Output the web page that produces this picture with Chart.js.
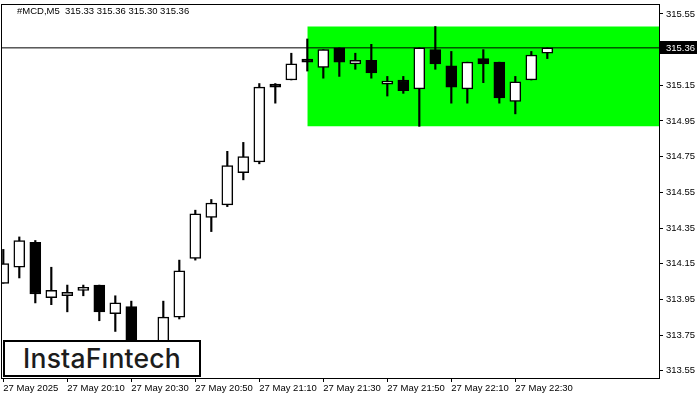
<!DOCTYPE html>
<html>
<head>
<meta charset="utf-8">
<script src="https://cdn.jsdelivr.net/npm/chart.js@4.4.1/dist/chart.umd.min.js"></script>
<style>
  body { margin: 0; background: #fff; }
  #wrap { position: relative; width: 700px; height: 400px; }
  #header {
    position: absolute; left: 17px; top: 5px;
    font: 9.5px "Liberation Sans", Arial, sans-serif; color: #000; white-space: pre;
  }
  #logo {
    position: absolute; left: 3px; top: 340px; width: 198px; height: 37px;
    box-sizing: border-box; border: 2px solid #000; background: #fff;
    font: 500 26.5px Inter, "Open Sans", sans-serif; color: #1c1c1c;
    text-align: center; line-height: 33px; letter-spacing: 0.2px;
  }
</style>
</head>
<body>
<div id="wrap">
  <canvas id="chart" width="700" height="400"></canvas>
  <div id="header">#MCD,M5  315.33 315.36 315.30 315.36</div>
  <div id="logo">InstaFıntech</div>
</div>
<script>
// M5 candles, index 0 = 19:50
const opens  = [314.04, 314.13, 314.27, 313.96, 313.97, 314.00, 314.03, 313.87, 313.91, 313.66, 313.62, 313.85, 314.18, 314.41, 314.48, 314.66, 314.72, 315.145, 315.18, 315.285, 315.25, 315.36, 315.27, 315.29, 315.157, 315.18, 315.13, 315.35, 315.26, 315.13, 315.30, 315.28, 315.06, 315.18, 315.33];
const highs  = [314.23, 314.30, 314.28, 314.13, 314.03, 314.03, 314.03, 313.97, 313.94, 313.70, 313.94, 314.17, 314.45, 314.51, 314.78, 314.83, 315.16, 315.16, 315.33, 315.41, 315.35, 315.36, 315.33, 315.38, 315.20, 315.20, 315.36, 315.48, 315.34, 315.28, 315.35, 315.28, 315.20, 315.34, 315.36];
const lows   = [314.04, 314.07, 313.93, 313.92, 313.88, 313.97, 313.83, 313.77, 313.62, 313.57, 313.60, 313.84, 314.17, 314.33, 314.47, 314.62, 314.71, 315.05, 315.18, 315.23, 315.19, 315.20, 315.24, 315.19, 315.09, 315.105, 314.92, 315.24, 315.05, 315.05, 315.165, 315.05, 314.99, 315.18, 315.30];
const closes = [314.15, 314.28, 313.98, 314.00, 313.99, 314.01, 313.88, 313.93, 313.66, 313.60, 313.85, 314.11, 314.43, 314.49, 314.70, 314.75, 315.14, 315.14, 315.27, 315.28, 315.35, 315.28, 315.29, 315.22, 315.168, 315.12, 315.36, 315.27, 315.14, 315.28, 315.27, 315.08, 315.17, 315.32, 315.36];

const xTickIdx = [0, 4, 8, 12, 16, 20, 24, 28, 32];
const xTickLabels = ['27 May 2025', '27 May 20:10', '27 May 20:30', '27 May 20:50', '27 May 21:10', '27 May 21:30', '27 May 21:50', '27 May 22:10', '27 May 22:30'];
const yTicks = [313.55, 313.75, 313.95, 314.15, 314.35, 314.55, 314.75, 314.95, 315.15, 315.35, 315.55];

// rectangle zone and current price
const zoneStart = 19, zoneEnd = 42;
const zoneTop = 315.48, zoneBottom = 314.92;
const lastPrice = 315.36;

const font = { family: '"Liberation Sans", Arial, sans-serif', size: 9.5 };

const bodies = opens.map((o, i) => ({ x: i, y: [Math.min(o, closes[i]), Math.max(o, closes[i])] }));
const wicks = lows.map((l, i) => ({ x: i, y: [l, highs[i]] }));
const bodyColors = opens.map((o, i) => closes[i] > o ? '#ffffff' : '#000000');

const framePlugin = {
  id: 'frame',
  afterDraw(chart) {
    const { ctx, chartArea: a, scales } = chart;
    ctx.save();
    ctx.strokeStyle = '#000';
    ctx.lineWidth = 1;
    ctx.strokeRect(a.left + 0.5, a.top + 0.5, a.right - a.left, a.bottom - a.top);
    // current price tag
    const y = scales.y.getPixelForValue(lastPrice);
    ctx.fillStyle = '#000';
    ctx.fillRect(a.right + 1, Math.round(y) - 7, 37, 13);
    ctx.fillStyle = '#fff';
    ctx.font = '9.5px "Liberation Sans", Arial, sans-serif';
    ctx.textBaseline = 'middle';
    ctx.fillText(lastPrice.toFixed(2), a.right + 7, Math.round(y));
    ctx.restore();
  }
};

new Chart(document.getElementById('chart'), {
  data: {
    datasets: [
      {
        type: 'bar',
        data: bodies,
        backgroundColor: bodyColors,
        borderColor: '#000',
        borderWidth: 1.5,
        borderSkipped: false,
        barThickness: 11,
        minBarLength: 3,
        grouped: false,
      },
      {
        type: 'bar',
        data: wicks,
        backgroundColor: '#000',
        borderWidth: 0,
        barThickness: 1.5,
        grouped: false,
      },
      {
        type: 'line',
        data: [{ x: -2, y: lastPrice }, { x: 42, y: lastPrice }],
        borderColor: '#000',
        borderWidth: 1,
        pointRadius: 0,
        fill: false,
      },
      {
        type: 'line',
        data: [{ x: zoneStart, y: zoneTop }, { x: zoneEnd, y: zoneTop }],
        borderWidth: 0,
        borderColor: 'rgba(0,0,0,0)',
        backgroundColor: '#00ff00',
        pointRadius: 0,
        fill: { value: zoneBottom },
      },
    ],
  },
  options: {
    responsive: false,
    animation: false,
    layout: { padding: { left: 1, top: 4, right: 0, bottom: 0 } },
    plugins: { legend: { display: false }, tooltip: { enabled: false } },
    scales: {
      x: {
        type: 'linear',
        offset: false,
        min: -0.144,
        max: 40.98,
        afterBuildTicks: (s) => { s.ticks = xTickIdx.map(v => ({ value: v })); },
        afterFit: (s) => { s.height = 22; s.paddingLeft = 0; s.paddingRight = 0; },
        ticks: {
          callback: (v) => xTickLabels[xTickIdx.indexOf(v)],
          align: 'start',
          maxRotation: 0,
          autoSkip: false,
          color: '#000',
          font: font,
          padding: 1,
        },
        grid: { offset: false, drawOnChartArea: false, tickLength: 4, color: '#000' },
        border: { display: true, color: '#000' },
      },
      y: {
        position: 'right',
        min: 313.509,
        max: 315.606,
        afterBuildTicks: (s) => { s.ticks = yTicks.map(v => ({ value: v })); },
        afterFit: (s) => { s.width = 41; s.paddingTop = 0; s.paddingBottom = 0; },
        ticks: {
          callback: (v) => v.toFixed(2),
          color: '#000',
          font: font,
          padding: 3,
        },
        grid: { drawOnChartArea: false, tickLength: 4, color: '#000' },
        border: { display: true, color: '#000' },
      },
    },
  },
  plugins: [framePlugin],
});
</script>
</body>
</html>
